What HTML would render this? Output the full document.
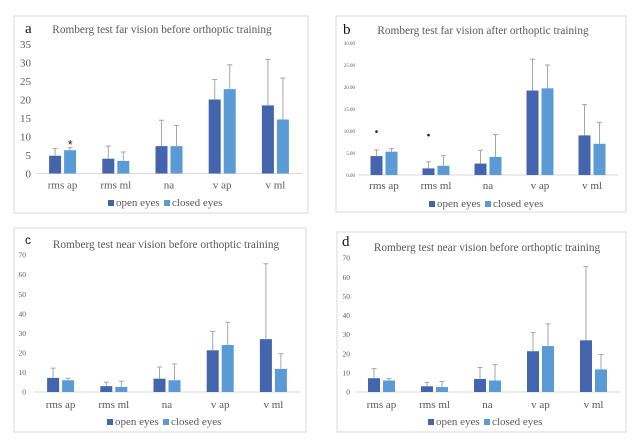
<!DOCTYPE html>
<html><head><meta charset="utf-8"><style>
html,body{margin:0;padding:0;background:#fff;}
svg{display:block;font-family:"Liberation Serif",serif;}
</style></head><body>
<svg id="s" width="640" height="446" viewBox="0 0 640 446"></svg>
<script>
const categories = ["rms ap","rms ml","na","v ap","v ml"];
const aOpen = [4.8,4,7.4,20,18.4];
const aClosed = [6.3,3.4,7.4,22.8,14.6];
const aOpenErr = [6.8,7.4,14.4,25.4,30.8];
const aClosedErr = [7,5.8,13,29.4,25.8];
const aTicks = ["0","5","10","15","20","25","30","35"];
const bOpen = [4.3,1.5,2.6,19.2,9];
const bClosed = [5.3,2.1,4.1,19.7,7.1];
const bOpenErr = [5.7,3,5.6,26.3,16];
const bClosedErr = [6,4.4,9.2,25,12];
const bTicks = ["0.00","5.00","10.00","15.00","20.00","25.00","30.00"];
const cOpen = [7.2,3,6.8,21.3,27];
const cClosed = [6,2.6,6,24,11.8];
const cOpenErr = [12.2,5,12.8,31,65.5];
const cClosedErr = [7,5.5,14.3,35.6,19.6];
const cTicks = ["0","10","20","30","40","50","60","70"];
const aStars = [{cat:0,series:1,val:8.2}];
const bStars = [{cat:0,series:0,val:9.8},{cat:1,series:0,val:9}];

const svg=document.getElementById('s');
const NS='http://www.w3.org/2000/svg';
function mk(tag,attrs,parent){const e=document.createElementNS(NS,tag);for(const k in attrs)e.setAttribute(k,attrs[k]);(parent||svg).appendChild(e);return e;}

function panel(p){
  const g=mk('g',{});
  
  
  const fr=mk('rect',{x:p.fx,y:p.fy,width:p.fw,height:p.fh,fill:'#fff',stroke:'#d9d9d9','stroke-width':1},g);
  
  
  const lt=mk('text',{x:p.lx,y:p.ly,'font-size':p.lfs,fill:'#111','font-family':p.lfont||'Liberation Serif, serif'},g);
  lt.textContent=p.letter;
  
  
  const tt=mk('text',{x:p.tx,y:p.ty,'font-size':p.tsz,fill:'#595959','text-anchor':'middle'},g);
  tt.textContent=p.title;
  
  
  const ymax=p.ymax;
  const y=v=>p.y0-(v/ymax)*(p.y0-p.ytop);
  const n=p.ticks.length;
  for(let i=0;i<n;i++){
    const v=ymax*i/(n-1);
    const t=mk('text',{x:p.tlx,y:y(v)+p.tfs*0.35,'font-size':p.tfs,fill:'#595959','text-anchor':'end'},g);
    t.textContent=p.ticks[i];
    
    
  }
  const ax=mk('line',{x1:p.px0,x2:p.px1,y1:p.y0,y2:p.y0,stroke:'#d9d9d9','stroke-width':1},g);
  
  
  const step=(p.px1-p.px0)/categories.length;
  const cx=i=>p.px0+step*(i+0.5);
  const bw=12,gap=3;
  const series=[[p.open,p.openErr,'#4464ae'],[p.closed,p.closedErr,'#5b9bd5']];
  categories.forEach((c,i)=>{
    series.forEach((s,j)=>{
      const x=cx(i)+(j===0?-gap/2-bw:gap/2);
      const b=mk('rect',{x:x,y:y(s[0][i]),width:bw,height:p.y0-y(s[0][i]),fill:s[2]},g);
      
      
      const ex=x+bw/2;
      const e=mk('path',{d:`M${ex},${y(s[0][i])}V${y(s[1][i])}M${ex-2.5},${y(s[1][i])}H${ex+2.5}`,stroke:'#a6a6a6','stroke-width':1,fill:'none'},g);
      
      
    });
    const cl=mk('text',{x:cx(i),y:p.y0+p.clOff,'font-size':11,fill:'#595959','text-anchor':'middle'},g);
    cl.textContent=c;
    
    
  });
  (p.stars||[]).forEach(st=>{
    const x=cx(st.cat)+(st.series===0?-gap/2-bw/2:gap/2+bw/2);
    const isDot=p.letter==='b';
    const t=mk('text',{x:x,y:y(st.val)+(isDot?3:6),'font-size':isDot?10:13,fill:'#222','text-anchor':'middle','font-family':'Liberation Sans, sans-serif'},g);
    t.textContent=isDot?'•':'*';
    
    
  });
  const lg=mk('g',{},g);
  
  
  const names=['open eyes','closed eyes'];
  const lx=[p.legx,p.legx+56];
  names.forEach((nm,j)=>{
    const r=mk('rect',{x:lx[j],y:p.legy-6,width:6,height:6,fill:series[j][2]},lg);
    
    
    const t=mk('text',{x:lx[j]+8,y:p.legy,'font-size':11,fill:'#595959'},lg);
    t.textContent=nm;
    
    
  });
}

panel({letter:'a',title:'Romberg test far vision before orthoptic training',tsz:11.3,fx:14,fy:16,fw:294,fh:197,lx:25,ly:33,lfs:15,tx:162,ty:33,
  ymax:35,ticks:aTicks,y0:173.5,ytop:44,tlx:31,tfs:11,px0:36,px1:302,clOff:15,
  open:aOpen,closed:aClosed,openErr:aOpenErr,closedErr:aClosedErr,stars:aStars,legx:108,legy:206});
panel({letter:'b',title:'Romberg test far vision after orthoptic training',tsz:11.3,fx:336,fy:16,fw:290,fh:196,lx:343,ly:34,lfs:15,tx:483,ty:34,
  ymax:30,ticks:bTicks,y0:175,ytop:43,tlx:355,tfs:5,px0:358,px1:618,clOff:14,
  open:bOpen,closed:bClosed,openErr:bOpenErr,closedErr:bClosedErr,stars:bStars,legx:429,legy:207});
panel({letter:'c',title:'Romberg test near vision before orthoptic training',tsz:11.3,fx:14,fy:228,fw:292,fh:204,lx:25,ly:244,lfs:12,lfont:'Liberation Sans, sans-serif',tx:166,ty:248,
  ymax:70,ticks:cTicks,y0:392,ytop:255,tlx:26,tfs:7.5,px0:34,px1:300,clOff:16,
  open:cOpen,closed:cClosed,openErr:cOpenErr,closedErr:cClosedErr,legx:107,legy:425});
panel({letter:'d',title:'Romberg test near vision before orthoptic training',tsz:11.3,fx:337,fy:232,fw:289,fh:200,lx:342,ly:246,lfs:15,tx:487,ty:251,
  ymax:70,ticks:cTicks,y0:392,ytop:258,tlx:350,tfs:7.5,px0:355,px1:620,clOff:16,
  open:cOpen,closed:cClosed,openErr:cOpenErr,closedErr:cClosedErr,legx:428,legy:425});
</script>
</body></html>
